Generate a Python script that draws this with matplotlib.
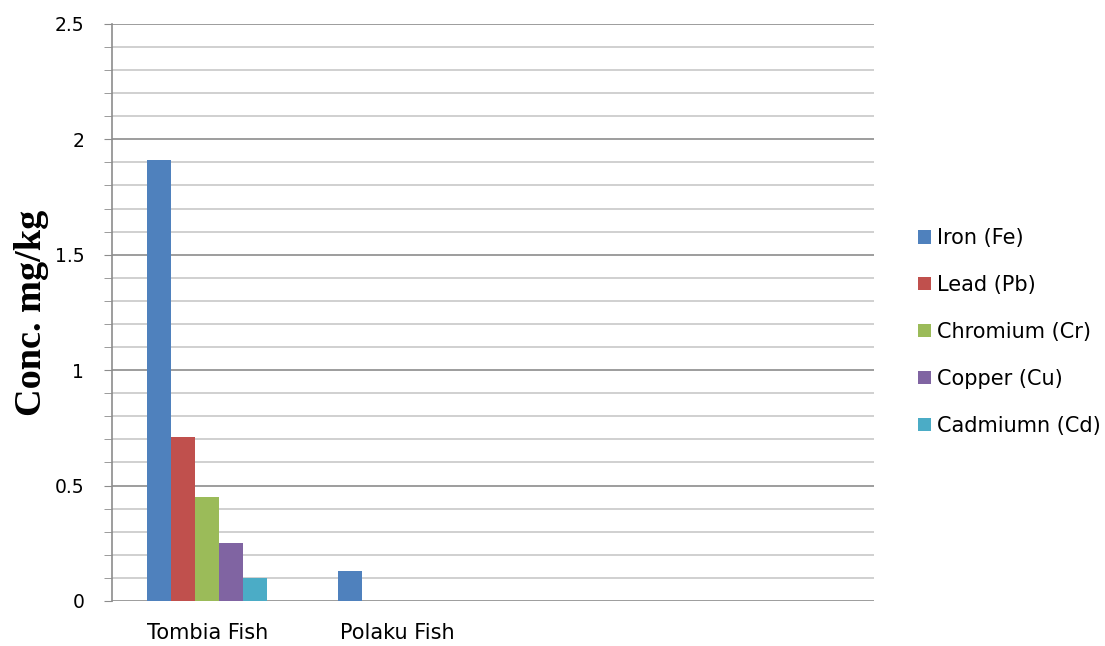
import matplotlib.pyplot as plt
import numpy as np

categories = ["Tombia Fish", "Polaku Fish", "", ""]
series = ["Iron (Fe)", "Lead (Pb)", "Chromium (Cr)", "Copper (Cu)", "Cadmiumn (Cd)"]
iron = [1.91, 0.13, 0, 0]
lead = [0.71, 0, 0, 0]
chromium = [0.45, 0, 0, 0]
copper = [0.25, 0, 0, 0]
cadmium = [0.10, 0, 0, 0]
colors = ["#4F81BD", "#C0504D", "#9BBB59", "#8064A2", "#4BACC6"]

values = [iron, lead, chromium, copper, cadmium]

fig = plt.figure(figsize=(11.05, 6.46), dpi=100)
ax = fig.add_axes([0.1014, 0.0697, 0.6895, 0.8933])

x = np.arange(len(categories))
w = 0.126
for i, (name, vals) in enumerate(zip(series, values)):
    ax.bar(x + (i - 2) * w, vals, w, color=colors[i], label=name, zorder=3)

ax.set_xlim(-0.5, len(categories) - 0.5)
ax.set_ylim(0, 2.5)
ax.set_yticks(np.arange(0, 2.51, 0.5))
ax.set_yticklabels(["0", "0.5", "1", "1.5", "2", "2.5"])
ax.set_yticks(np.arange(0, 2.51, 0.1), minor=True)
ax.set_xticks(x)
ax.set_xticklabels(categories)

ax.grid(axis="y", which="major", color="#8c8c8c", lw=1.2, zorder=0)
ax.grid(axis="y", which="minor", color="#c8c8c8", lw=1.2, zorder=0)

for s in ["top", "right", "bottom"]:
    ax.spines[s].set_visible(False)
ax.spines["left"].set_color("#8c8c8c")
ax.spines["left"].set_linewidth(1.2)

ax.tick_params(axis="y", which="both", length=6, color="#8c8c8c", labelsize=13.5, pad=14)
ax.tick_params(axis="x", length=0, labelsize=15, pad=16)

ax.set_ylabel("Conc. mg/kg", fontsize=27.5, fontweight="bold", family="Liberation Serif",
              va="center")
ax.yaxis.set_label_coords(-0.106, 0.5)

fig.legend(loc="center left", bbox_to_anchor=(0.814, 0.486), frameon=False, fontsize=15,
           handlelength=0.6, handleheight=0.6, handletextpad=0.3, labelspacing=1.29)

fig.savefig("out.png", dpi=100)
